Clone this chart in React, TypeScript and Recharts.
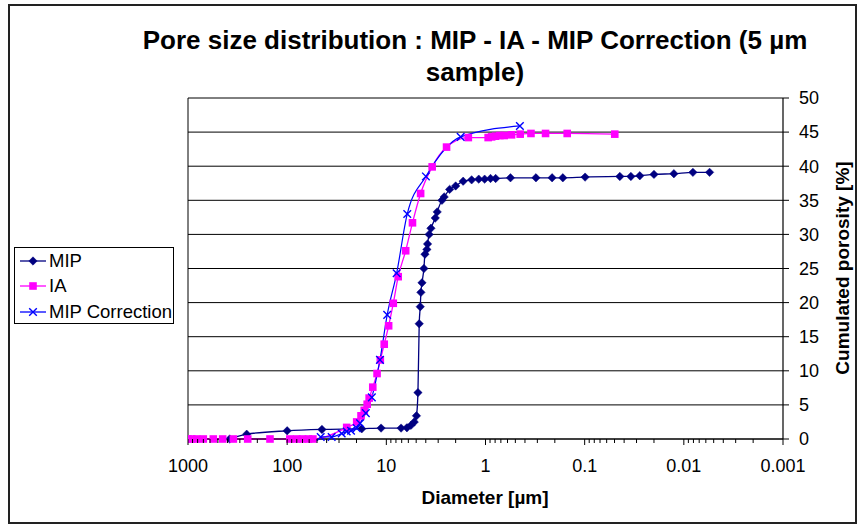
import React from 'react';
import { LineChart, Line, XAxis, YAxis, CartesianGrid, ReferenceLine } from 'recharts';

const FONT = '"Liberation Sans", Arial, Helvetica, sans-serif';

const chartTitleLines = ['Pore size distribution : MIP - IA - MIP Correction (5 µm', 'sample)'];
const xAxisTitle = 'Diameter [µm]';
const yAxisTitle = 'Cumulated porosity [%]';
const seriesNames = ['MIP', 'IA', 'MIP Correction'];

const mipDiameter = [380, 256, 100, 44.6, 17.7, 11.3, 7.1, 6.2, 5.65, 5.23, 4.97, 4.8, 4.66, 4.55, 4.48, 4.37, 4.18, 4.08, 3.9, 3.84, 3.7, 3.55, 3.21, 3.07, 2.75, 2.61, 2.3, 2.0, 1.68, 1.38, 1.17, 1.02, 0.89, 0.79, 0.56, 0.31, 0.213, 0.166, 0.099, 0.0442, 0.0342, 0.0278, 0.02, 0.0126, 0.0081, 0.0055];
const mipPorosity = [0, 0.7, 1.2, 1.4, 1.5, 1.6, 1.6, 1.65, 2.0, 2.5, 3.4, 6.8, 16.9, 19.4, 21.5, 22.9, 25.0, 27.1, 27.8, 28.6, 30.0, 30.9, 32.4, 33.3, 35.0, 35.5, 36.6, 37.1, 37.8, 38.0, 38.1, 38.1, 38.2, 38.2, 38.3, 38.3, 38.3, 38.3, 38.4, 38.5, 38.5, 38.6, 38.8, 38.9, 39.1, 39.1];

const iaDiameter = [1000, 918, 817, 701, 556, 447, 349, 250, 149, 94, 80, 70, 61, 55, 25.1, 19.9, 18.0, 16.7, 15.6, 14.9, 13.7, 12.4, 11.5, 10.5, 9.48, 8.51, 7.59, 6.38, 5.45, 4.51, 3.45, 2.47, 1.49, 0.94, 0.867, 0.791, 0.716, 0.648, 0.546, 0.447, 0.348, 0.248, 0.15, 0.0497];
const iaPorosity = [0, 0, 0, 0, 0, 0, 0, 0, 0, 0, 0, 0, 0, 0, 1.7, 2.5, 3.4, 4.2, 5.1, 6.0, 7.6, 9.6, 11.6, 13.9, 16.6, 19.9, 23.8, 27.6, 31.7, 36.0, 39.9, 42.8, 44.2, 44.2, 44.3, 44.4, 44.5, 44.5, 44.6, 44.7, 44.8, 44.8, 44.8, 44.7];

const corrDiameter = [45.9, 35.6, 28.2, 25.1, 22.7, 19.9, 18.4, 16.1, 14.0, 11.6, 9.8, 7.87, 6.15, 3.99, 1.78, 0.45];
const corrPorosity = [0.3, 0.3, 0.8, 1.1, 1.2, 1.6, 2.3, 3.8, 6.1, 11.6, 18.2, 24.3, 33.0, 38.5, 44.3, 45.9];

const xMajorTicks = [1000, 100, 10, 1, 0.1, 0.01, 0.001];
const xMinorMultipliers = [2, 3, 4, 5, 6, 7, 8, 9];
const yTicks = [0, 5, 10, 15, 20, 25, 30, 35, 40, 45, 50];

const xAllTicks = [
  ...xMajorTicks,
  ...xMajorTicks.slice(1).flatMap((base) => xMinorMultipliers.map((m) => base * m)),
].sort((a, b) => a - b);

const toPoints = (d: number[], v: number[]) => d.map((x, i) => ({ d: x, v: v[i] }));
const mipData = toPoints(mipDiameter, mipPorosity);
const iaData = toPoints(iaDiameter, iaPorosity);
const corrData = toPoints(corrDiameter, corrPorosity);

const NAVY = '#000080';
const MAGENTA = '#FF00FF';
const BLUE = '#0000FF';

const Diamond = (props: any) => {
  const { cx, cy } = props;
  if (cx == null || cy == null) return null;
  const r = 4.2;
  return <path d={`M${cx},${cy - r}L${cx + r},${cy}L${cx},${cy + r}L${cx - r},${cy}Z`} fill={NAVY} stroke={NAVY} strokeWidth={0.5} />;
};
const Square = (props: any) => {
  const { cx, cy } = props;
  if (cx == null || cy == null) return null;
  const r = 3.8;
  return <rect x={cx - r} y={cy - r} width={2 * r} height={2 * r} fill={MAGENTA} />;
};
const Cross = (props: any) => {
  const { cx, cy } = props;
  if (cx == null || cy == null) return null;
  const r = 3.8;
  return <path d={`M${cx - r},${cy - r}L${cx + r},${cy + r}M${cx - r},${cy + r}L${cx + r},${cy - r}`} stroke={BLUE} strokeWidth={1.4} fill="none" />;
};

const XTick = (props: any) => {
  const { x, y, payload } = props;
  const v = payload.value;
  const major = xMajorTicks.some((t) => Math.abs(t - v) / t < 1e-9);
  return (
    <g>
      <line x1={x} x2={x} y1={y} y2={y + (major ? 6 : 4)} stroke="#000" strokeWidth={1} />
      {major && (
        <text x={x} y={y + 33} textAnchor="middle" fontSize={18} fontFamily={FONT} fill="#000">
          {String(v)}
        </text>
      )}
    </g>
  );
};

const LegendIcon = ({ kind }: { kind: number }) => {
  const color = kind === 0 ? NAVY : kind === 1 ? MAGENTA : BLUE;
  return (
    <svg width={26} height={14} style={{ display: 'block' }}>
      <line x1={0} x2={26} y1={7} y2={7} stroke={color} strokeWidth={1.3} />
      {kind === 0 && <Diamond cx={13} cy={7} />}
      {kind === 1 && <Square cx={13} cy={7} />}
      {kind === 2 && <Cross cx={13} cy={7} />}
    </svg>
  );
};

export default function App() {
  return (
    <div style={{ position: 'absolute', left: 0, top: 0, width: 858, height: 525, background: '#fff' }}>
      <LineChart width={858} height={525} margin={{ top: 98, left: 188, right: 15, bottom: 56 }}>
        <CartesianGrid vertical={false} stroke="#000" strokeWidth={1} />
        <XAxis
          type="number"
          dataKey="d"
          scale="log"
          domain={[0.001, 1000]}
          reversed
          allowDataOverflow
          ticks={xAllTicks}
          interval={0}
          tick={<XTick />}
          tickLine={false}
          tickSize={0}
          tickMargin={0}
          height={30}
          axisLine={{ stroke: '#000', strokeWidth: 1.2 }}
        />
        <YAxis
          orientation="right"
          type="number"
          domain={[0, 50]}
          ticks={yTicks}
          interval={0}
          width={60}
          tickSize={6}
          tickMargin={10}
          axisLine={{ stroke: '#000', strokeWidth: 1.2 }}
          tickLine={{ stroke: '#000' }}
          tick={{ fill: '#000', fontSize: 18, fontFamily: FONT }}
        />
        <ReferenceLine x={1000} stroke="#000" strokeWidth={1} />
        <Line data={mipData} dataKey="v" type="monotone" stroke={NAVY} strokeWidth={1.3} dot={<Diamond />} activeDot={false} isAnimationActive={false} />
        <Line data={iaData} dataKey="v" type="monotone" stroke={MAGENTA} strokeWidth={1.3} dot={<Square />} activeDot={false} isAnimationActive={false} />
        <Line data={corrData} dataKey="v" type="monotone" stroke={BLUE} strokeWidth={1.2} dot={<Cross />} activeDot={false} isAnimationActive={false} />
      </LineChart>
      <svg width={858} height={525} style={{ position: 'absolute', left: 0, top: 0, pointerEvents: 'none' }}>
        <rect x={9} y={5} width={847} height={518} fill="none" stroke="#222" strokeWidth={2} />
        {chartTitleLines.map((t, i) => (
          <text key={i} x={475} y={49 + i * 32} textAnchor="middle" fontSize={26} fontWeight="bold" fontFamily={FONT} fill="#000">
            {t}
          </text>
        ))}
        <text x={485} y={504} textAnchor="middle" fontSize={19} fontWeight="bold" fontFamily={FONT} fill="#000">
          {xAxisTitle}
        </text>
        <text x={849} y={268} textAnchor="middle" fontSize={19} fontWeight="bold" fontFamily={FONT} fill="#000" transform="rotate(-90 849 268)">
          {yAxisTitle}
        </text>
      </svg>
      <div
        style={{
          position: 'absolute',
          left: 14,
          top: 247,
          width: 160,
          height: 77,
          border: '1px solid #000',
          background: '#fff',
          fontFamily: FONT,
          fontSize: 18.5,
          color: '#000',
          padding: '0 0 0 5px',
          boxSizing: 'border-box',
        }}
      >
        {seriesNames.map((n, i) => (
          <div key={n} style={{ display: 'flex', alignItems: 'center', height: 25.5, gap: 3 }}>
            <LegendIcon kind={i} />
            <span style={{ lineHeight: '20px' }}>{n}</span>
          </div>
        ))}
      </div>
    </div>
  );
}
